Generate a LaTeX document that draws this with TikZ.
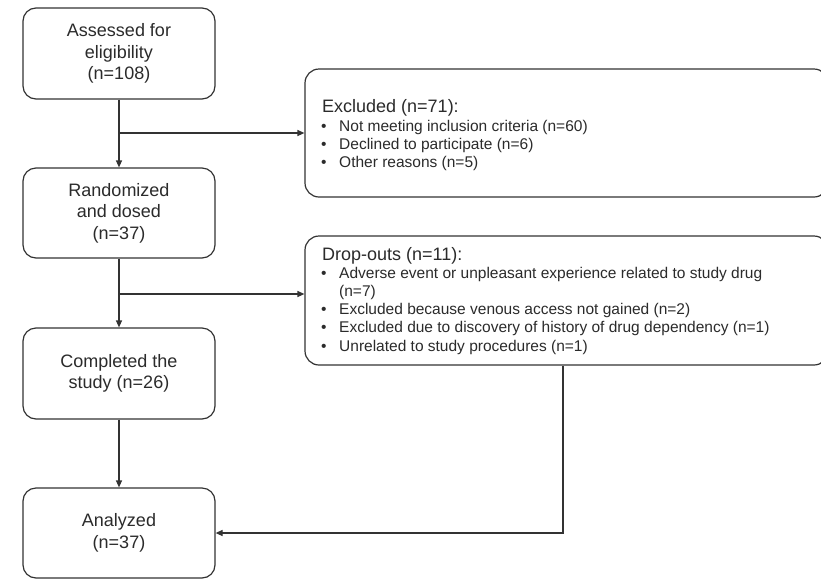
\documentclass[tikz,border=0pt]{standalone}
\usepackage{fontspec}
\setmainfont{Liberation Sans}
\usetikzlibrary{arrows.meta}
\definecolor{ink}{HTML}{2B2B2B}
\definecolor{linec}{HTML}{333333}
\newcommand{\blt}[1]{\makebox[18pt][l]{\textbullet}#1}
\tikzset{
  box/.style={draw=linec, line width=1.2pt, rounded corners=13pt, inner sep=0pt,
    minimum width=192pt, align=center, text=ink,
    font=\fontsize{18}{21.5}\selectfont},
  bigbox/.style={draw=linec, line width=1.2pt, rounded corners=14pt, inner sep=0pt,
    minimum width=523pt},
  hd/.style={anchor=base west, inner sep=0pt, text=ink, font=\fontsize{18}{21}\selectfont},
  ln/.style={anchor=base west, inner sep=0pt, text=ink, font=\fontsize{15.5}{18}\selectfont},
  arr/.style={draw=linec, line width=1.2pt, -{Triangle[length=7pt,width=6pt]}},
  con/.style={draw=linec, line width=1.2pt}
}
\begin{document}
\begin{tikzpicture}[x=1pt,y=-1pt]
\useasboundingbox (0,0) rectangle (821,579);
\fill[white] (0,0) rectangle (821,579);
% left column
\node[box, minimum height=91pt] (b1) at (119,53.5) {Assessed for\\eligibility\\(n=108)};
\node[box, minimum height=90pt] (b2) at (119,213) {Randomized\\and dosed\\(n=37)};
\node[box, minimum height=91pt] (b3) at (119,373.5) {Completed the\\study (n=26)};
\node[box, minimum height=90pt] (b4) at (119,533) {Analyzed\\(n=37)};
% right boxes
\node[bigbox, minimum height=128pt] (excl) at (566.5,133) {};
\node[bigbox, minimum height=129pt] (drop) at (566.5,300.5) {};
% excluded text
\node[hd] (eh) at (322,112.7) {Excluded (n=71):};
\node[ln] (e1) at (321,131.5) {\blt{Not meeting inclusion criteria (n=60)}};
\node[ln] (e2) at (321,149.2) {\blt{Declined to participate (n=6)}};
\node[ln] (e3) at (321,167) {\blt{Other reasons (n=5)}};
% drop-out text
\node[hd] (dh) at (322,260.7) {Drop-outs (n=11):};
\node[ln] (d1) at (321,278.3) {\blt{Adverse event or unpleasant experience related to study drug}};
\node[ln] (d1b) at (339,296.5) {(n=7)};
\node[ln] (d2) at (321,314.7) {\blt{Excluded because venous access not gained (n=2)}};
\node[ln] (d3) at (321,332.9) {\blt{Excluded due to discovery of history of drug dependency (n=1)}};
\node[ln] (d4) at (321,351.1) {\blt{Unrelated to study procedures (n=1)}};
% connectors
\coordinate (j1) at (119,133);
\coordinate (j2) at (119,294);
\coordinate (dx) at (563,0);
\draw[arr] (b1) -- (b2);
\draw[arr] (j1) -- (excl.west |- j1);
\draw[arr] (b2) -- (b3);
\draw[arr] (j2) -- (drop.west |- j2);
\draw[arr] (b3) -- (b4);
\draw[arr] (drop.south -| dx) |- (b4.east);
\end{tikzpicture}
\end{document}
